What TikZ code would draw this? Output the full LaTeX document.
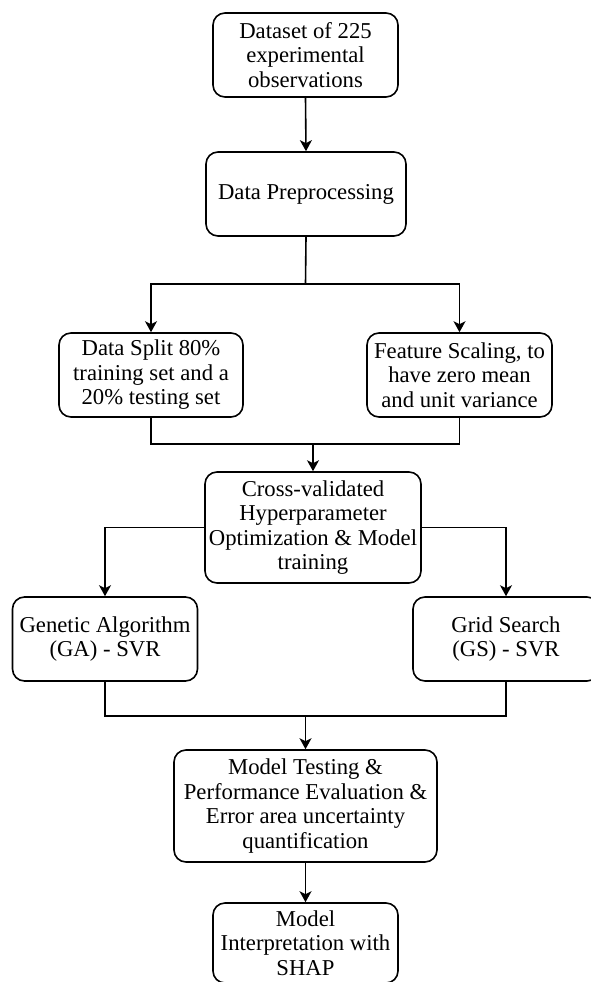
\documentclass[tikz,border=0pt]{standalone}
\usepackage{fontspec}
\setmainfont{Liberation Serif}
\usetikzlibrary{arrows.meta}
\begin{document}
\begin{tikzpicture}[x=1pt,y=-1pt,
  box/.style={draw=black, line width=1.6pt, rounded corners=12pt, align=center,
    inner sep=0pt, font=\fontsize{22.7}{24.5}\selectfont},
  conn/.style={line width=1.6pt, draw=black},
  arr/.style={conn, -{Stealth[length=11pt,width=12pt,inset=3pt]}}]
\useasboundingbox (0,0) rectangle (591,982);
\begin{scope}
\clip (0,0) rectangle (591,982);
\node[box, minimum width=185pt, minimum height=84pt] (ds) at (305.5,55) {Dataset of 225\\experimental\\observations};
\node[box, minimum width=200pt, minimum height=84pt] (pre) at (306,194) {Data Preprocessing};
\node[box, minimum width=184pt, minimum height=84pt] (split) at (151,375) {Data Split 80\%\\training set and a\\20\% testing set};
\node[box, minimum width=185pt, minimum height=84pt] (scale) at (459.5,375) {Feature Scaling, to\\have zero mean\\and unit variance};
\node[box, minimum width=216pt, minimum height=111pt] (cv) at (313,527.5) {Cross-validated\\Hyperparameter\\Optimization \& Model\\training};
\node[box, minimum width=185pt, minimum height=84pt] (ga) at (105,639) {Genetic Algorithm\\(GA) - SVR};
\node[box, minimum width=186pt, minimum height=84pt] (gs) at (506,639) {Grid Search\\(GS) - SVR};
\node[box, minimum width=263pt, minimum height=112pt] (mt) at (305.5,806) {Model Testing \&\\Performance Evaluation \&\\Error area uncertainty\\quantification};
\node[box, minimum width=185pt, minimum height=80pt] (shap) at (305.5,943) {Model\\Interpretation with\\SHAP};

\coordinate (j1) at (305.5,284);
\coordinate (j2) at (313,444);
\coordinate (j3) at (305.5,716);

\draw[arr] (ds.south) -- (pre.north);
\draw[conn] (pre.south) -- (j1);
\draw[arr] (j1) -| (split.north);
\draw[arr] (j1) -| (scale.north);
\draw[conn] (split.south) |- (j2);
\draw[conn] (scale.south) |- (j2);
\draw[arr] (j2) -- (cv.north);
\draw[arr] (cv.west) -| (ga.north);
\draw[arr] (cv.east) -| (gs.north);
\draw[conn] (ga.south) |- (j3);
\draw[conn] (gs.south) |- (j3);
\draw[arr] (j3) -- (mt.north);
\draw[arr] (mt.south) -- (shap.north);
\end{scope}
\end{tikzpicture}
\end{document}
